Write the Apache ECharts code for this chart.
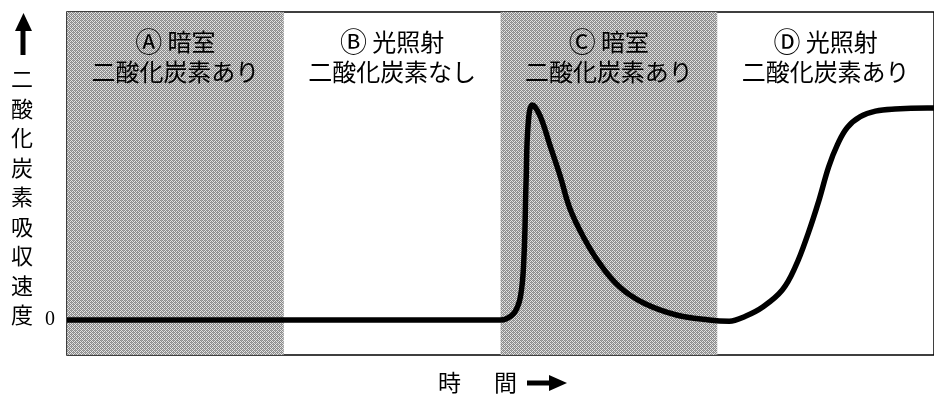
<!DOCTYPE html>
<html><head><meta charset="utf-8">
<script src="https://cdn.jsdelivr.net/npm/echarts@6/dist/echarts.min.js"></script>
<style>html,body{margin:0;padding:0;background:#fff}#c{width:934px;height:396px}</style>
</head><body><div id="c"></div>
<script>
// time (each phase spans 100 units) and CO2 absorption rate
const timeX = [0, 200, 202.5, 206.4, 209.2, 210.8, 211.8, 212.8, 214.7, 218.3, 222.9, 227.5, 232.1, 238.5, 245.9, 255, 266, 281.2, 296.3, 305.5, 313, 321, 330, 336, 342, 347, 351.4, 355.5, 360, 366, 373, 382, 397, 400];
const rateY = [0, 0, 0.3, 2.3, 7.5, 20, 45, 64, 69.8, 66.2, 56.5, 46.8, 36.0, 26.6, 18.2, 10.7, 5.5, 1.6, 0, -0.4, 1.2, 4.2, 9.7, 17.2, 28.2, 39.0, 49.7, 57, 62.5, 66, 67.8, 68.5, 68.8, 68.8];
const phaseStart = [0, 100, 200, 300];
const phaseEnd = [100, 200, 300, 400];
const phaseMark = ['Ⓐ', 'Ⓑ', 'Ⓒ', 'Ⓓ'];
const phaseLight = ['暗室', '光照射', '暗室', '光照射'];
const phaseCO2 = ['二酸化炭素あり', '二酸化炭素なし', '二酸化炭素あり', '二酸化炭素あり'];
const phaseDark = [true, false, true, false];
const yTicks = [0];
const yTitle = '二酸化炭素吸収速度';
const xTitle = ['時', '間'];

// halftone-like texture for dark phases
const pc = document.createElement('canvas');
pc.width = 4; pc.height = 4;
const g = pc.getContext('2d');
g.fillStyle = '#e2e2e2'; g.fillRect(0, 0, 4, 4);
g.fillStyle = '#8a8a8a';
for (let x = 0; x < 4; x++) for (let y = 0; y < 4; y++) if ((x + y) % 2 === 0) g.fillRect(x, y, 1, 1);
g.fillStyle = '#a8a8a8';
[[1,0],[3,2]].forEach(p => g.fillRect(p[0], p[1], 1, 1));

const chart = echarts.init(document.getElementById('c'), null, {renderer: 'canvas'});
const areas = phaseMark.map((m, i) => [
  {name: '{c|' + m + '}{t| ' + phaseLight[i] + '}\n{t|' + phaseCO2[i] + '}', xAxis: phaseStart[i],
   itemStyle: {color: phaseDark[i] ? {image: pc, repeat: 'repeat'} : 'rgba(0,0,0,0)'}},
  {xAxis: phaseEnd[i]}
]);
const font = '"Noto Sans CJK JP", sans-serif';
chart.setOption({
  animation: false,
  grid: {left: 67, top: 12, width: 872, height: 343, show: true, borderColor: '#000', borderWidth: 1.5},
  xAxis: {type: 'value', min: 0, max: 400, axisLine: {show: false}, axisTick: {show: false}, axisLabel: {show: false}, splitLine: {show: false}},
  yAxis: {type: 'value', min: -11.4, max: 100, axisLine: {show: false}, axisTick: {show: false}, splitLine: {show: false},
    axisLabel: {show: true, margin: 12, fontSize: 20, fontFamily: '"Liberation Serif", serif', color: '#000',
      customValues: yTicks}},
  series: [{
    type: 'line', data: timeX.map((x, i) => [x, rateY[i]]), smooth: 0.4, symbol: 'none',
    lineStyle: {color: '#000', width: 5.5}, z: 5,
    markArea: {silent: true, label: {show: true, position: 'insideTop', distance: 15, color: '#000', fontFamily: font, align: 'center',
      rich: {c: {fontSize: 27, lineHeight: 30, fontFamily: font, color: '#000'}, t: {fontSize: 24, lineHeight: 30, fontFamily: font, color: '#000'}}},
      data: areas}
  }],
  graphic: [
    {type: 'text', left: 11, top: 64, style: {text: yTitle.split('').join('\n'), fontSize: 22, lineHeight: 29.5, fontFamily: font, fill: '#000'}},
    {type: 'line', shape: {x1: 23, y1: 55, x2: 23, y2: 28}, style: {stroke: '#000', lineWidth: 5}},
    {type: 'polygon', shape: {points: [[15, 31], [32, 31], [23.5, 13]]}, style: {fill: '#000'}},
    {type: 'text', left: 438, top: 371, style: {text: xTitle[0], fontSize: 23, fontFamily: font, fill: '#000'}},
    {type: 'text', left: 494, top: 371, style: {text: xTitle[1], fontSize: 23, fontFamily: font, fill: '#000'}},
    {type: 'line', shape: {x1: 527, y1: 383, x2: 552, y2: 383}, style: {stroke: '#000', lineWidth: 5}},
    {type: 'polygon', shape: {points: [[549, 375], [549, 391], [567, 383]]}, style: {fill: '#000'}}
  ]
});
</script></body></html>
